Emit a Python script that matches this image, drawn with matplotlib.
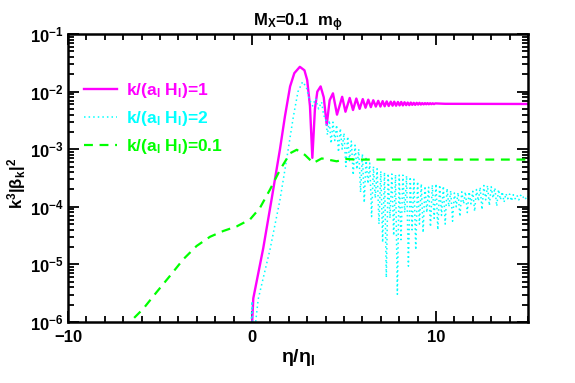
import numpy as np
import matplotlib
matplotlib.use("Agg")
import matplotlib.pyplot as plt
from matplotlib.ticker import LogLocator, MultipleLocator, FuncFormatter, NullFormatter

plt.rcParams['font.family'] = 'Liberation Sans'
plt.rcParams['font.weight'] = 'bold'
plt.rcParams['axes.titleweight'] = 'bold'
plt.rcParams['axes.labelweight'] = 'bold'
plt.rcParams['mathtext.fontset'] = 'custom'
plt.rcParams['mathtext.rm'] = 'Liberation Sans:bold'
plt.rcParams['mathtext.it'] = 'Liberation Sans:bold'
plt.rcParams['mathtext.bf'] = 'Liberation Sans:bold'
plt.rcParams['mathtext.default'] = 'bf'

# k/(a_I H_I) = 1   (eta, log10 value)
mag_eta = [-0.05, 0.07, 0.61, 1.07, 1.52, 1.79, 2.07, 2.30, 2.60, 2.85,
           3.00, 3.15, 3.28, 3.42, 3.55, 3.73, 3.90, 4.06, 4.22, 4.40,
           4.62, 4.90, 5.08, 5.31, 5.49, 5.67, 5.85, 6.02, 6.17, 6.32,
           6.46, 6.59, 6.73, 6.86, 6.98, 7.10, 7.21, 7.32, 7.43, 7.54,
           7.64, 7.73, 7.83, 7.93, 8.02, 8.11, 8.20, 8.29, 8.38, 8.46,
           8.55, 8.63, 8.71, 8.79, 8.87, 8.95, 9.03, 9.10, 9.18, 9.25,
           9.33, 9.40, 9.47, 9.54, 9.61, 9.68, 9.75, 9.82, 9.89, 9.96,
           10.5, 15.0]
mag_log = [-6.40, -5.59, -4.72, -3.86, -3.00, -2.43, -1.91, -1.68, -1.57, -1.63,
           -1.80, -2.25, -3.15, -2.30, -2.00, -1.91, -2.10, -2.58, -2.15, -2.03,
           -2.40, -2.09, -2.35, -2.11, -2.32, -2.12, -2.30, -2.13, -2.28, -2.14,
           -2.27, -2.15, -2.26, -2.16, -2.26, -2.165, -2.255, -2.17, -2.25, -2.175,
           -2.245, -2.175, -2.245, -2.18, -2.24, -2.18, -2.24, -2.185, -2.235, -2.19,
           -2.235, -2.19, -2.23, -2.195, -2.23, -2.195, -2.225, -2.195, -2.225, -2.20,
           -2.222, -2.20, -2.22, -2.20, -2.22, -2.202, -2.218, -2.203, -2.217, -2.205,
           -2.212, -2.215]

# k/(a_I H_I) = 2 : rise and first peak
cya_rise_eta = [-0.10, 0.00, 0.05, 0.20, 0.34, 0.98, 1.52, 1.88, 2.25, 2.50,
                2.75, 2.95, 3.10, 3.30, 3.45, 3.62, 3.78, 3.90]
cya_rise_log = [-6.50, -5.64, -6.30, -6.00, -5.60, -4.74, -3.88, -3.18, -2.43, -2.00,
                -1.83, -1.92, -2.12, -2.25, -2.12, -2.30, -2.18, -2.42]
# k/(a_I H_I) = 2 : tops of the fast oscillation
cya_pk_eta = [4.0, 4.2, 4.4, 4.6, 4.8, 5.0, 5.2, 5.4, 5.6, 5.8,
              6.0, 6.2, 6.4, 6.6, 6.8, 7.0, 7.2, 7.4, 7.6, 7.8,
              8.0, 8.2, 8.4, 8.6, 8.8, 9.0, 9.2, 9.4, 9.6, 9.8,
              10.0, 10.2, 10.4, 10.6, 10.8, 11.0, 11.2, 11.4, 11.6, 11.8,
              12.0, 12.2, 12.4, 12.6, 12.8, 13.0, 13.2, 13.4, 13.6, 13.8,
              14.0, 14.2, 14.4, 14.6, 14.8, 15.0]
cya_pk_log = [-2.45, -2.50, -2.53, -2.58, -2.64, -2.72, -2.78, -2.86, -2.93, -3.00,
              -3.08, -3.16, -3.24, -3.30, -3.34, -3.38, -3.40, -3.42, -3.43, -3.44,
              -3.45, -3.45, -3.46, -3.48, -3.52, -3.56, -3.60, -3.64, -3.66, -3.62,
              -3.60, -3.62, -3.64, -3.68, -3.72, -3.76, -3.75, -3.74, -3.74, -3.74,
              -3.73, -3.70, -3.66, -3.63, -3.63, -3.65, -3.67, -3.70, -3.74, -3.77,
              -3.78, -3.79, -3.80, -3.80, -3.81, -3.82]
# k/(a_I H_I) = 2 : bottoms of the fast oscillation
cya_tr_eta = [4.1, 4.3, 4.5, 4.7, 4.9, 5.1, 5.3, 5.5, 5.7, 5.9,
              6.1, 6.3, 6.5, 6.7, 6.9, 7.1, 7.3, 7.5, 7.7, 7.9,
              8.1, 8.3, 8.5, 8.7, 8.9, 9.1, 9.3, 9.5, 9.7, 9.9,
              10.1, 10.3, 10.5, 10.7, 10.9, 11.1, 11.3, 11.5, 11.7, 11.9,
              12.1, 12.3, 12.5, 12.7, 12.9, 13.1, 13.3, 13.5, 13.7, 13.9,
              14.1, 14.3, 14.5, 14.7, 14.9]
cya_tr_log = [-2.75, -2.90, -2.85, -3.05, -3.00, -3.30, -3.20, -3.45, -3.35, -3.75,
              -3.93, -3.60, -4.17, -3.85, -4.30, -4.62, -5.23, -4.20, -4.50, -5.52,
              -4.57, -4.10, -5.03, -4.40, -4.75, -4.30, -4.45, -4.10, -4.35, -4.20,
              -4.40, -4.15, -4.30, -4.00, -4.25, -4.00, -4.17, -3.95, -4.10, -3.95,
              -4.08, -3.90, -4.05, -3.88, -3.98, -3.85, -3.99, -3.88, -3.92, -3.86,
              -3.90, -3.86, -3.88, -3.85, -3.87]

# k/(a_I H_I) = 0.1
grn_eta = [-7.00, -6.63, -5.91, -5.18, -4.46, -3.73, -3.01, -2.28, -1.56, -0.83,
           -0.11, 0.43, 0.98, 1.52, 2.07, 2.43, 2.88, 3.33, 3.79, 4.60,
           5.14, 5.60, 15.0]
grn_log = [-6.12, -6.00, -5.77, -5.48, -5.20, -4.91, -4.68, -4.52, -4.42, -4.34,
           -4.22, -4.02, -3.70, -3.36, -3.07, -3.01, -3.10, -3.24, -3.16, -3.21,
           -3.17, -3.18, -3.18]

labels = [r'k/(a$_{I}$ H$_{I}$)=1', r'k/(a$_{I}$ H$_{I}$)=2', r'k/(a$_{I}$ H$_{I}$)=0.1']
colors = ['#ff00ff', '#00ffff', '#00ff00']

# put the cyan pieces together in eta order
cya_eta = np.concatenate([cya_rise_eta, cya_pk_eta, cya_tr_eta])
cya_log = np.concatenate([cya_rise_log, cya_pk_log, cya_tr_log])
order = np.argsort(cya_eta, kind='stable')
cya_eta, cya_log = cya_eta[order], cya_log[order]

fig = plt.figure(figsize=(5.75, 3.83), dpi=100)
ax = fig.add_axes([68/575, 1-322/383, 460/575, 288/383])

ax.plot(mag_eta, 10**np.array(mag_log), color=colors[0], lw=1.7, label=labels[0])
ax.plot(cya_eta, 10**cya_log, color=colors[1], lw=1.1, ls=(0, (1, 2)), label=labels[1])
ax.plot(grn_eta, 10**np.array(grn_log), color=colors[2], lw=1.6, ls=(0, (4, 3)), label=labels[2])

ax.set_yscale('log')
ax.set_xlim(-10, 15)
ax.set_ylim(1e-6, 1e-1)


def pow_label(v, pos):
    return r'$\mathbf{10^{%d}}$' % int(round(np.log10(v)))


ax.xaxis.set_major_locator(MultipleLocator(10))
ax.xaxis.set_minor_locator(MultipleLocator(1))
ax.yaxis.set_major_locator(LogLocator(base=10, numticks=10))
ax.yaxis.set_minor_locator(LogLocator(base=10, subs=np.arange(2, 10), numticks=10))
ax.yaxis.set_major_formatter(FuncFormatter(pow_label))
ax.yaxis.set_minor_formatter(NullFormatter())

ax.tick_params(which='both', direction='in', top=True, right=True, width=1.3, labelsize=12)
ax.tick_params(which='major', length=8)
ax.tick_params(which='minor', length=4)
ax.tick_params(axis='x', pad=6)
ax.tick_params(axis='y', pad=3)
for lab in ax.get_xticklabels():
    lab.set_fontweight('bold')
for s in ax.spines.values():
    s.set_linewidth(1.8)

ax.set_title(r'M$_{X}$=0.1  m$_{\phi}$', fontsize=12, pad=3, fontweight='bold')
ax.set_xlabel(r'$\eta/\eta_{I}$', fontsize=14, labelpad=1, fontweight='bold')
fig.text(17/575, 1-183/383, r'k$^{3}$|$\beta_{k}$|$^{2}$', rotation=90, fontsize=12,
         ha='center', va='center', fontweight='bold')

leg = ax.legend(loc='upper left', bbox_to_anchor=(0.02, 0.86), frameon=False,
                fontsize=12.5, handlelength=1.9, handletextpad=0.5, labelspacing=0.5,
                borderaxespad=0, labelcolor='linecolor', prop={'weight': 'bold', 'size': 12.5})

fig.savefig('out.png', dpi=100)
